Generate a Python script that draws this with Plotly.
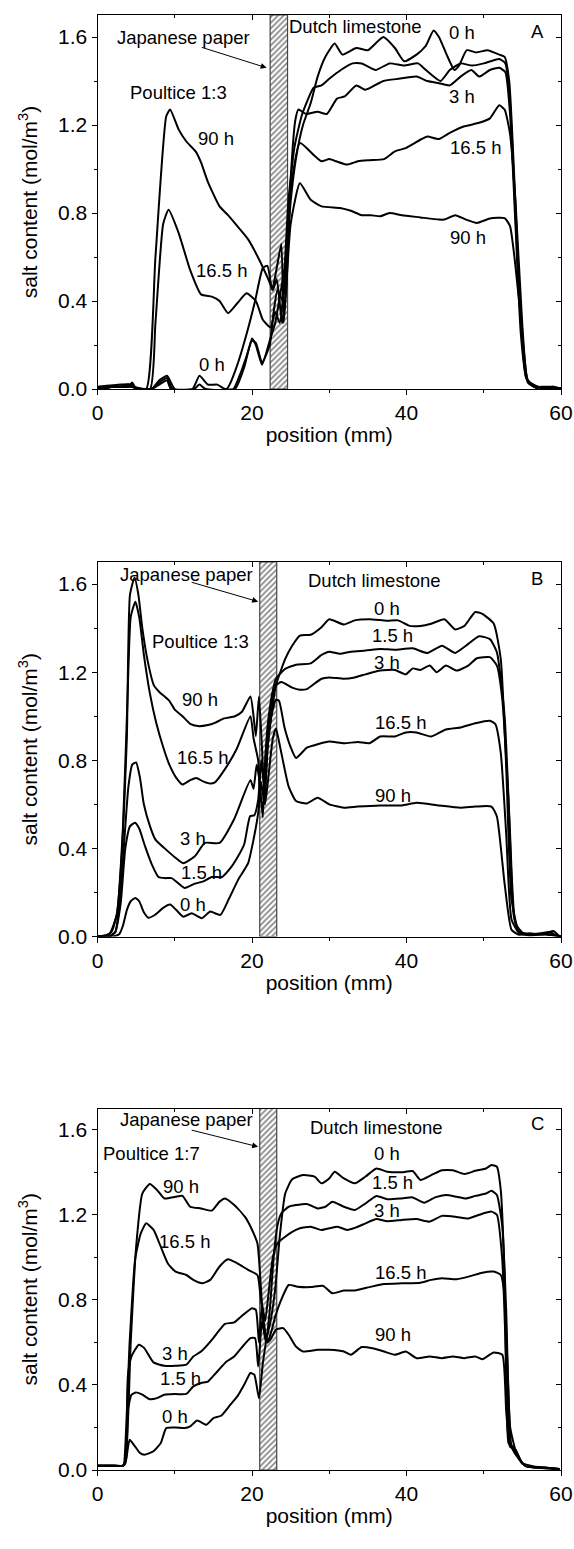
import plotly.graph_objects as go

FONT = "Liberation Sans, Arial, sans-serif"

# ---------------- Panel A (Poultice 1:3) ----------------
A_x_0h = [0, 1, 2, 3, 4, 4.5, 5, 7, 8, 9, 9.7, 12.3, 13.2, 14.3, 15.5, 16.5, 17.6, 18.5, 19.3, 20, 20.5, 21.3, 22.3, 22.8, 23.3, 24.0, 24.5, 25, 25.7, 26.6, 27.6, 28.5, 29.5, 30.7, 31.7, 33.5, 35, 37, 38.5, 39.7, 41.3, 42.5, 43.5, 44.2, 45.2, 46.2, 46.8, 47.8, 49, 50.5, 52, 52.7, 53.3, 53.9, 54.6, 55.3, 55.8, 56.5, 58, 59, 60]
A_y_0h = [0.01, 0.005, 0.01, 0.01, 0.02, 0.01, 0, 0, 0.03, 0.05, 0, 0, 0.06, 0.02, 0.02, 0, 0, 0.07, 0.15, 0.22, 0.21, 0.12, 0.2, 0.35, 0.45, 0.4, 0.6, 0.85, 1.05, 1.2, 1.3, 1.42, 1.51, 1.57, 1.52, 1.55, 1.54, 1.6, 1.55, 1.49, 1.52, 1.56, 1.63, 1.6, 1.52, 1.45, 1.47, 1.54, 1.53, 1.54, 1.52, 1.51, 1.4, 1.0, 0.45, 0.1, 0.03, 0.01, 0.005, 0.01, 0.0]

A_x_1h5 = [0, 2, 4, 4.5, 5, 7, 8, 9, 9.5, 10, 12.5, 13.2, 14, 17.8, 19, 20, 20.5, 21.3, 22.3, 23, 23.6, 24.2, 24.7, 25.5, 26.5, 28, 29, 30, 31.5, 33, 34.2, 36, 37.8, 39.7, 41.5, 42.5, 44.4, 45.6, 47, 48.5, 50, 52, 52.8, 53.4, 54.1, 54.8, 55.5, 56.2, 57, 60]
A_y_1h5 = [0.0, 0.01, 0.01, 0.03, 0, 0, 0.04, 0.06, 0.03, 0, 0, 0.02, 0, 0, 0.1, 0.23, 0.2, 0.11, 0.22, 0.3, 0.42, 0.55, 0.85, 1.1, 1.25, 1.37, 1.38, 1.41, 1.45, 1.48, 1.48, 1.45, 1.48, 1.47, 1.48, 1.45, 1.4, 1.45, 1.48, 1.47, 1.48, 1.5, 1.48, 1.3, 0.8, 0.3, 0.05, 0.02, 0.0, 0.0]

A_x_3h = [0, 3, 4.5, 5, 7, 8, 9, 9.5, 16.7, 18, 19.3, 20.4, 21.4, 22, 22.6, 23.2, 23.8, 24.1, 24.5, 25, 25.6, 26, 27, 28.5, 29.7, 31, 32, 33.5, 34.7, 37, 39, 41.3, 42.7, 44.2, 45.6, 47, 48.4, 49.4, 50.8, 52, 52.8, 53.4, 54.1, 54.8, 55.5, 56.2, 57, 60]
A_y_3h = [0.01, 0.02, 0.02, 0, 0, 0.02, 0.04, 0, 0, 0.1, 0.25, 0.4, 0.55, 0.56, 0.45, 0.55, 0.66, 0.3, 0.5, 0.95, 1.22, 1.27, 1.25, 1.26, 1.25, 1.32, 1.33, 1.38, 1.36, 1.40, 1.41, 1.42, 1.40, 1.39, 1.38, 1.42, 1.45, 1.42, 1.45, 1.46, 1.44, 1.25, 0.75, 0.25, 0.05, 0.02, 0.01, 0.0]

A_x_16h5 = [0, 2, 4.5, 6.8, 7.5, 8.5, 9.2, 10.5, 12, 13.4, 14.8, 15.8, 16.9, 18.1, 19.3, 20.5, 21.4, 22.4, 23, 23.6, 24.2, 25, 26.2, 28.1, 29, 30, 30.9, 32.3, 33.7, 35.2, 37.1, 38.5, 39.9, 41.8, 42.7, 44.2, 45.6, 47.5, 49.4, 50.8, 52, 52.7, 53.4, 54.1, 55, 55.7, 56.9, 58, 60]
A_y_16h5 = [0.0, 0.01, 0.01, 0, 0.3, 0.75, 0.815, 0.71, 0.54, 0.43, 0.42, 0.40, 0.345, 0.39, 0.435, 0.40, 0.315, 0.28, 0.35, 0.3, 0.5, 0.9, 1.118, 1.06, 1.035, 1.045, 1.035, 1.02, 1.035, 1.04, 1.045, 1.08, 1.095, 1.133, 1.148, 1.136, 1.164, 1.194, 1.21, 1.23, 1.29, 1.27, 1.16, 0.86, 0.285, 0.04, 0.012, 0.0, 0.005]

A_x_90h = [0, 2, 4.5, 6.3, 7.5, 8.9, 9.4, 10.5, 11.5, 12.7, 13.4, 14.3, 15.8, 16.9, 18.1, 19.5, 20.9, 22.1, 22.7, 23.2, 23.9, 24.4, 25, 26.2, 27.6, 29, 31.4, 32.8, 34.2, 35.4, 36.6, 37.8, 39.4, 41.8, 44.2, 44.9, 46.3, 47.7, 49.1, 50.8, 52.7, 53.4, 54.1, 55, 55.7, 56.5, 58, 59, 60]
A_y_90h = [0.0, 0.01, 0.01, 0, 0.6, 1.24, 1.27, 1.18, 1.125, 1.08, 1.03, 0.94, 0.83, 0.79, 0.74, 0.68, 0.59, 0.50, 0.45, 0.5, 0.3, 0.45, 0.75, 0.935, 0.86, 0.83, 0.823, 0.81, 0.79, 0.79, 0.785, 0.80, 0.79, 0.78, 0.77, 0.77, 0.79, 0.77, 0.755, 0.775, 0.777, 0.74, 0.56, 0.25, 0.03, 0.01, 0.01, 0.01, 0.0]

# ---------------- Panel B (Poultice 1:3) ----------------
B_x_0h = [0, 1, 2, 2.8, 3.3, 3.8, 4.3, 4.9, 5.4, 6, 6.6, 7.5, 8.5, 9.4, 10.2, 11.1, 12.2, 13.5, 14.6, 15.9, 17, 18.2, 19.5, 20.2, 20.8, 21.2, 21.6, 22, 22.5, 23.1, 24.3, 25.2, 26.2, 27.6, 29, 30, 31.9, 33.3, 35.2, 37.5, 38.9, 40.4, 41.8, 43.2, 44.9, 46.3, 47.5, 48.9, 49.8, 51.3, 52.2, 52.9, 53.6, 54.6, 56, 57.5, 58.6, 59.3, 60]
B_y_0h = [0, 0, 0, 0.01, 0.05, 0.12, 0.16, 0.175, 0.16, 0.11, 0.085, 0.1, 0.13, 0.145, 0.12, 0.09, 0.105, 0.083, 0.113, 0.098, 0.17, 0.257, 0.333, 0.44, 0.56, 0.7, 0.6, 0.85, 1.0, 1.14, 1.26, 1.32, 1.366, 1.37, 1.404, 1.44, 1.416, 1.435, 1.44, 1.433, 1.435, 1.41, 1.41, 1.42, 1.44, 1.394, 1.41, 1.473, 1.465, 1.42, 1.26, 0.774, 0.167, 0.02, 0.01, 0.015, 0.02, 0.005, 0.0]

B_x_1h5 = [0, 1.5, 2.3, 3, 3.6, 4.2, 4.86, 5.4, 6.15, 7, 7.9, 8.7, 9.6, 10.5, 11.3, 12.6, 13.7, 14.8, 16.1, 17.2, 18.2, 19.0, 19.75, 20.3, 20.8, 21.2, 21.5, 22, 22.6, 23.1, 24.3, 25.7, 27.6, 29, 30, 31.4, 32.8, 34.7, 36.6, 38.5, 40.8, 42.7, 44.6, 46.3, 47.7, 49.4, 50.8, 51.7, 52.7, 53.4, 54.1, 55.1, 57, 59, 60]
B_y_1h5 = [0, 0, 0.02, 0.15, 0.4, 0.5, 0.516, 0.49, 0.41, 0.33, 0.27, 0.265, 0.265, 0.24, 0.22, 0.24, 0.25, 0.27, 0.27, 0.31, 0.364, 0.42, 0.546, 0.55, 0.62, 0.8, 0.7, 0.95, 1.1, 1.17, 1.215, 1.234, 1.24, 1.278, 1.293, 1.283, 1.293, 1.298, 1.305, 1.302, 1.308, 1.287, 1.32, 1.287, 1.32, 1.363, 1.35, 1.29, 1.0, 0.47, 0.06, 0.015, 0.01, 0.01, 0.0]

B_x_3h = [0, 1.5, 2.3, 3, 3.5, 4, 4.5, 5, 5.5, 6, 6.8, 7.5, 8.7, 10, 11.1, 12.6, 13.9, 15.8, 17.65, 19.8, 20.2, 20.6, 21, 21.4, 21.8, 22.3, 23.1, 23.8, 25.2, 26.2, 27.1, 29, 30, 31.9, 33.3, 34.7, 36.6, 38.5, 39.9, 40.8, 41.8, 43, 43.9, 45.1, 46.5, 48, 49.1, 50.8, 51.7, 52.4, 53.2, 53.9, 54.6, 56, 58, 60]
B_y_3h = [0, 0, 0.02, 0.2, 0.45, 0.68, 0.78, 0.79, 0.72, 0.6, 0.5, 0.44, 0.4, 0.36, 0.333, 0.364, 0.425, 0.425, 0.53, 0.71, 0.67, 0.78, 0.7, 0.54, 0.85, 1.0, 1.14, 1.155, 1.13, 1.12, 1.123, 1.17, 1.176, 1.17, 1.176, 1.19, 1.207, 1.21, 1.19, 1.217, 1.21, 1.23, 1.20, 1.23, 1.207, 1.23, 1.263, 1.268, 1.23, 1.078, 0.62, 0.09, 0.02, 0.01, 0.01, 0.0]

B_x_16h5 = [0, 1.5, 2.5, 3.3, 3.9, 4.3, 4.9, 5.4, 6, 6.8, 7.6, 8.5, 9.3, 10.2, 11, 12, 12.8, 13.6, 14.5, 15.2, 16.5, 18, 19.8, 20.2, 20.8, 21.1, 21.5, 22, 22.5, 23.1, 23.5, 24.2, 25, 25.7, 27.1, 28.5, 30, 31.9, 33.7, 35.2, 36.6, 38.5, 39.9, 41.3, 43.2, 45.1, 47, 48.9, 50.8, 51.5, 52.2, 52.9, 53.6, 54.6, 56, 58, 60]
B_y_16h5 = [0, 0.01, 0.1, 0.5, 1.1, 1.45, 1.52, 1.45, 1.28, 1.1, 0.97, 0.86, 0.78, 0.72, 0.69, 0.71, 0.72, 0.705, 0.695, 0.7, 0.76, 0.85, 1.0, 0.9, 0.8, 0.62, 0.6, 0.85, 1.0, 1.075, 1.07, 0.95, 0.86, 0.81, 0.857, 0.873, 0.885, 0.877, 0.883, 0.877, 0.908, 0.908, 0.926, 0.926, 0.908, 0.94, 0.949, 0.968, 0.979, 0.964, 0.835, 0.47, 0.076, 0.015, 0.005, 0.01, 0.0]

B_x_90h = [0, 1, 1.8, 2.5, 3.2, 3.8, 4.2, 4.8, 5.3, 5.8, 6.5, 7.3, 8, 9.3, 10, 11, 12, 13, 14.3, 15.2, 16.4, 17.8, 18.7, 19.8, 20.2, 20.5, 20.9, 21.3, 21.7, 22.2, 22.7, 23.1, 23.7, 24.75, 25.7, 27.1, 28.5, 30, 31.9, 33.7, 36.6, 39.4, 41.3, 44.2, 47, 48.9, 51, 51.7, 52.7, 53.6, 54.6, 56, 56.9, 58.3, 59, 59.8]
B_y_90h = [0, 0.005, 0.02, 0.1, 0.4, 0.9, 1.55, 1.63, 1.55, 1.4, 1.25, 1.14, 1.11, 1.07, 1.03, 1.0, 0.965, 0.955, 0.96, 0.97, 0.99, 1.0, 1.02, 1.09, 1.0, 0.91, 1.09, 0.85, 0.6, 0.75, 0.9, 0.944, 0.85, 0.68, 0.615, 0.604, 0.63, 0.6, 0.585, 0.59, 0.595, 0.595, 0.607, 0.595, 0.585, 0.59, 0.59, 0.545, 0.24, 0.03, 0.008, 0.015, 0.01, 0.018, 0.025, 0.0]

# ---------------- Panel C (Poultice 1:7) ----------------
C_x_0h = [0, 1, 2, 3.3, 3.7, 4.16, 4.87, 5.5, 6.06, 7.24, 8.19, 8.9, 10.1, 11.3, 12.0, 12.9, 14.1, 15.0, 16.0, 17.2, 18.1, 19.1, 19.8, 20.3, 20.9, 21.4, 21.9, 22.4, 23.0, 23.6, 24.3, 25.2, 26.6, 28.1, 29.0, 30.0, 30.7, 31.9, 33.3, 34.7, 36.1, 37.5, 39.4, 40.8, 41.8, 43.2, 44.6, 46.0, 47.5, 48.9, 50.3, 51.0, 51.7, 52.2, 52.7, 53.2, 53.6, 54.6, 55.5, 57.4, 59.8]
C_y_0h = [0.02, 0.02, 0.02, 0.02, 0.05, 0.142, 0.11, 0.08, 0.072, 0.088, 0.127, 0.197, 0.2, 0.197, 0.205, 0.233, 0.213, 0.244, 0.255, 0.307, 0.346, 0.409, 0.456, 0.448, 0.338, 0.5, 0.62, 0.7, 0.85, 1.1, 1.30, 1.367, 1.387, 1.38, 1.348, 1.371, 1.403, 1.371, 1.348, 1.38, 1.418, 1.403, 1.4, 1.406, 1.364, 1.387, 1.41, 1.41, 1.392, 1.407, 1.418, 1.434, 1.426, 1.317, 0.91, 0.127, 0.11, 0.05, 0.017, 0.01, 0.005]

C_x_1h5 = [0, 2, 3.3, 3.7, 3.93, 4.4, 4.97, 5.8, 6.77, 7.7, 8.66, 10.1, 11.5, 12.4, 13.4, 14.3, 15.3, 16.7, 17.7, 18.6, 19.8, 20.4, 20.8, 21.3, 21.8, 22.3, 22.8, 23.3, 23.8, 24.75, 25.7, 27.1, 28.5, 29.5, 30.4, 31.9, 33.3, 34.7, 36.1, 37.5, 39.4, 40.8, 42.3, 43.7, 45.1, 46.5, 47.7, 48.9, 50.3, 51.0, 51.7, 52.4, 52.9, 53.4, 54.1, 55, 56, 58, 59.8]
C_y_1h5 = [0.02, 0.02, 0.02, 0.05, 0.28, 0.354, 0.365, 0.354, 0.333, 0.338, 0.354, 0.357, 0.358, 0.393, 0.409, 0.416, 0.455, 0.51, 0.534, 0.573, 0.62, 0.62, 0.487, 0.7, 0.6, 0.75, 1.0, 1.15, 1.207, 1.238, 1.246, 1.251, 1.23, 1.238, 1.262, 1.238, 1.223, 1.254, 1.289, 1.273, 1.277, 1.282, 1.257, 1.282, 1.293, 1.285, 1.277, 1.289, 1.3, 1.313, 1.293, 1.144, 0.753, 0.205, 0.095, 0.03, 0.015, 0.01, 0.005]

C_x_3h = [0, 2, 3.3, 3.7, 3.93, 4.4, 5.35, 6.06, 7.24, 8.66, 10.1, 11.5, 12.4, 13.4, 14.8, 15.8, 16.5, 17.7, 18.6, 20.0, 20.5, 20.9, 21.3, 21.7, 22.2, 22.7, 23.3, 24.3, 25.2, 26.2, 27.6, 29.0, 30.0, 31.1, 32.3, 33.5, 34.7, 36.1, 37.5, 39.4, 41.3, 43.0, 44.6, 46.5, 48.0, 49.4, 51.0, 51.7, 52.4, 52.9, 53.4, 54.1, 55, 56, 58, 59.8]
C_y_3h = [0.02, 0.02, 0.02, 0.064, 0.44, 0.534, 0.589, 0.573, 0.506, 0.49, 0.49, 0.495, 0.534, 0.557, 0.612, 0.659, 0.687, 0.694, 0.722, 0.761, 0.753, 0.6, 0.78, 0.7, 0.85, 1.0, 1.066, 1.097, 1.12, 1.137, 1.144, 1.129, 1.137, 1.144, 1.129, 1.141, 1.16, 1.18, 1.17, 1.176, 1.18, 1.168, 1.195, 1.19, 1.183, 1.2, 1.215, 1.2, 0.988, 0.518, 0.127, 0.095, 0.03, 0.015, 0.01, 0.005]

C_x_16h5 = [0, 2, 3.3, 3.45, 4.16, 4.87, 5.58, 6.3, 7.24, 8.19, 9.13, 10.1, 11.5, 12.4, 13.6, 14.6, 15.8, 16.9, 18.1, 19.5, 20.7, 21.06, 21.5, 22.0, 22.5, 23.0, 23.6, 24.75, 25.9, 27.6, 29.2, 30.4, 31.9, 33.3, 35.2, 37.1, 39.4, 41.8, 43.2, 44.6, 46.5, 48.4, 49.8, 51.3, 52.2, 52.7, 53.2, 53.6, 54.6, 55.5, 57, 59.8]
C_y_16h5 = [0.02, 0.02, 0.02, 0.03, 0.6, 0.99, 1.11, 1.16, 1.13, 1.05, 0.97, 0.933, 0.917, 0.894, 0.878, 0.894, 0.957, 0.991, 0.972, 0.941, 0.917, 0.83, 0.7, 0.6, 0.65, 0.72, 0.784, 0.87, 0.862, 0.86, 0.866, 0.831, 0.844, 0.844, 0.86, 0.875, 0.878, 0.881, 0.894, 0.902, 0.897, 0.913, 0.928, 0.933, 0.917, 0.816, 0.36, 0.11, 0.05, 0.017, 0.01, 0.005]

C_x_90h = [0, 2, 3.3, 3.6, 4.3, 5.0, 5.8, 6.77, 7.7, 8.66, 10.1, 11.0, 12.0, 13.4, 14.8, 15.8, 16.5, 17.7, 19.1, 20.0, 20.7, 21.06, 21.5, 22.0, 22.5, 23.1, 24.04, 24.75, 25.7, 26.6, 28.5, 30.0, 31.9, 32.8, 34.2, 35.6, 37.1, 38.5, 39.9, 41.3, 43.0, 44.6, 46.0, 47.5, 48.9, 49.8, 51.3, 52.4, 52.9, 53.4, 54.1, 55.0, 56.5, 58.4, 59.8]
C_y_90h = [0.02, 0.02, 0.02, 0.03, 0.6, 1.05, 1.30, 1.345, 1.317, 1.277, 1.285, 1.289, 1.238, 1.23, 1.22, 1.262, 1.277, 1.246, 1.19, 1.13, 1.066, 0.91, 0.68, 0.6, 0.62, 0.66, 0.667, 0.636, 0.58, 0.557, 0.565, 0.565, 0.557, 0.542, 0.578, 0.573, 0.557, 0.542, 0.557, 0.526, 0.534, 0.526, 0.534, 0.526, 0.534, 0.521, 0.553, 0.542, 0.283, 0.11, 0.095, 0.033, 0.017, 0.01, 0.0]

# Japanese paper positions (mm)
paper_A = [22.35, 24.6]
paper_B = [21.0, 23.2]
paper_C = [21.0, 23.2]

# text labels: (text, x, y)
labels_A = [("Japanese paper", 11.1, 1.60), ("Dutch limestone", 33.4, 1.65), ("Poultice 1:3", 10.5, 1.35),
            ("0 h", 47.2, 1.62), ("3 h", 47.2, 1.33), ("16.5 h", 48.9, 1.10), ("90 h", 47.9, 0.69),
            ("90 h", 15.3, 1.14), ("16.5 h", 16.0, 0.54), ("0 h", 14.8, 0.11), ("A", 56.9, 1.625)]
labels_B = [("Japanese paper", 11.5, 1.645), ("Dutch limestone", 35.9, 1.615), ("Poultice 1:3", 13.3, 1.34),
            ("0 h", 37.5, 1.49), ("1.5 h", 38.2, 1.366), ("3 h", 37.5, 1.245), ("16.5 h", 39.2, 0.972), ("90 h", 38.2, 0.638),
            ("90 h", 13.3, 1.075), ("16.5 h", 13.6, 0.812), ("3 h", 12.4, 0.443), ("1.5 h", 13.4, 0.289), ("0 h", 12.4, 0.147),
            ("B", 56.9, 1.627)]
labels_C = [("Japanese paper", 11.5, 1.65), ("Dutch limestone", 36.1, 1.61), ("Poultice 1:7", 7.0, 1.49),
            ("0 h", 37.5, 1.49), ("1.5 h", 38.2, 1.35), ("3 h", 37.5, 1.22), ("16.5 h", 39.2, 0.93), ("90 h", 38.2, 0.636),
            ("90 h", 10.8, 1.335), ("16.5 h", 11.3, 1.074), ("3 h", 10.0, 0.55), ("1.5 h", 10.8, 0.43), ("0 h", 10.0, 0.252),
            ("C", 56.9, 1.63)]
# arrow from text to paper: (x_tail, y_tail, x_head, y_head)
arrow_A = (13.3, 1.555, 21.9, 1.46)
arrow_B = (12.0, 1.61, 20.8, 1.52)
arrow_C = (12.0, 1.60, 20.8, 1.52)

panels = [
    dict(curves=[(A_x_0h, A_y_0h), (A_x_1h5, A_y_1h5), (A_x_3h, A_y_3h), (A_x_16h5, A_y_16h5), (A_x_90h, A_y_90h)],
         paper=paper_A, labels=labels_A, arrow=arrow_A, px=(15, 389)),
    dict(curves=[(B_x_0h, B_y_0h), (B_x_1h5, B_y_1h5), (B_x_3h, B_y_3h), (B_x_16h5, B_y_16h5), (B_x_90h, B_y_90h)],
         paper=paper_B, labels=labels_B, arrow=arrow_B, px=(562, 936.5)),
    dict(curves=[(C_x_0h, C_y_0h), (C_x_1h5, C_y_1h5), (C_x_3h, C_y_3h), (C_x_16h5, C_y_16h5), (C_x_90h, C_y_90h)],
         paper=paper_C, labels=labels_C, arrow=arrow_C, px=(1108.5, 1470)),
]

W, H = 574, 1549
XL, XR = 97.5, 561.0
fig = go.Figure()
layout = {}
annotations = []
TICKFONT = dict(family=FONT, size=21, color="black")
TITLEFONT = dict(family=FONT, size=21, color="black")
ANNFONT = dict(family=FONT, size=18.5, color="black")

for i, p in enumerate(panels):
    k = 2 * i + 1
    xa = "x" if k == 1 else f"x{k}"
    ya = "y" if k == 1 else f"y{k}"
    xa2, ya2 = f"x{k+1}", f"y{k+1}"
    top, bot = p["px"]
    ydom = [(H - bot) / H, (H - top) / H]
    xdom = [XL / W, XR / W]
    # hatched Japanese paper layer
    x0, x1 = p["paper"]
    fig.add_trace(go.Bar(x=[(x0 + x1) / 2], y=[1.7], width=[x1 - x0], base=0,
                         marker=dict(color="white", line=dict(color="#444444", width=1.2),
                                     pattern=dict(shape="/", fgcolor="#111111", bgcolor="white", size=4, solidity=0.45)),
                         xaxis=xa, yaxis=ya, showlegend=False, hoverinfo="skip"))
    for cx, cy in p["curves"]:
        fig.add_trace(go.Scatter(x=cx, y=cy, mode="lines", xaxis=xa, yaxis=ya,
                                 line=dict(color="black", width=2, shape="spline", smoothing=0.5),
                                 showlegend=False))
    axname_x = "xaxis" if k == 1 else f"xaxis{k}"
    axname_y = "yaxis" if k == 1 else f"yaxis{k}"
    layout[axname_x] = dict(domain=xdom, anchor=ya, range=[0, 60], tick0=0, dtick=20,
                            ticks="outside", ticklen=5, tickwidth=1, tickcolor="black",
                            minor=dict(ticks="outside", ticklen=3, dtick=10, tickcolor="black"),
                            showline=True, linecolor="black", linewidth=1, showgrid=False, zeroline=False,
                            tickfont=TICKFONT, automargin=False, ticklabeloverflow="allow",
                            title=dict(text="position (mm)", font=TITLEFONT, standoff=4))
    layout[axname_y] = dict(domain=ydom, anchor=xa, range=[0, 1.7], tick0=0, dtick=0.4, tickformat=".1f",
                            ticks="outside", ticklen=5, tickwidth=1, tickcolor="black",
                            minor=dict(ticks="outside", ticklen=3, dtick=0.2, tickcolor="black"),
                            showline=True, linecolor="black", linewidth=1, showgrid=False, zeroline=False,
                            tickfont=TICKFONT, automargin=False, ticklabeloverflow="allow",
                            title=dict(text="salt content (mol/m<sup>3</sup>)", font=TITLEFONT, standoff=14))
    layout[f"xaxis{k+1}"] = dict(overlaying=xa, anchor=ya, side="top", range=[0, 60], tick0=0, dtick=20,
                                 ticks="inside", ticklen=5, tickcolor="black",
                                 minor=dict(ticks="inside", ticklen=3, dtick=10, tickcolor="black"),
                                 showline=True, linecolor="black", linewidth=1, showgrid=False, zeroline=False,
                                 showticklabels=False)
    layout[f"yaxis{k+1}"] = dict(overlaying=ya, anchor=xa, side="right", range=[0, 1.7], tick0=0, dtick=0.4,
                                 ticks="inside", ticklen=5, tickcolor="black",
                                 minor=dict(ticks="inside", ticklen=3, dtick=0.2, tickcolor="black"),
                                 showline=True, linecolor="black", linewidth=1, showgrid=False, zeroline=False,
                                 showticklabels=False)
    fig.add_trace(go.Scatter(x=[None], y=[None], xaxis=xa2, yaxis=ya2, showlegend=False, hoverinfo="skip"))
    for txt, tx, ty in p["labels"]:
        annotations.append(dict(text=txt, x=tx, y=ty, xref=xa, yref=ya, showarrow=False, font=ANNFONT))
    ax0, ay0, ax1, ay1 = p["arrow"]
    annotations.append(dict(x=ax1, y=ay1, ax=ax0, ay=ay0, xref=xa, yref=ya, axref=xa, ayref=ya,
                            showarrow=True, arrowhead=2, arrowsize=1.2, arrowwidth=1, arrowcolor="black", text=" ",
                            font=dict(size=1)))

fig.update_layout(width=W, height=H, margin=dict(l=0, r=0, t=0, b=0),
                  paper_bgcolor="white", plot_bgcolor="white", barmode="overlay",
                  annotations=annotations, **layout)
fig.write_html("out.html", config={"displayModeBar": False, "staticPlot": True},
               post_script="document.body.style.margin='0px';document.body.style.overflow='hidden';")
